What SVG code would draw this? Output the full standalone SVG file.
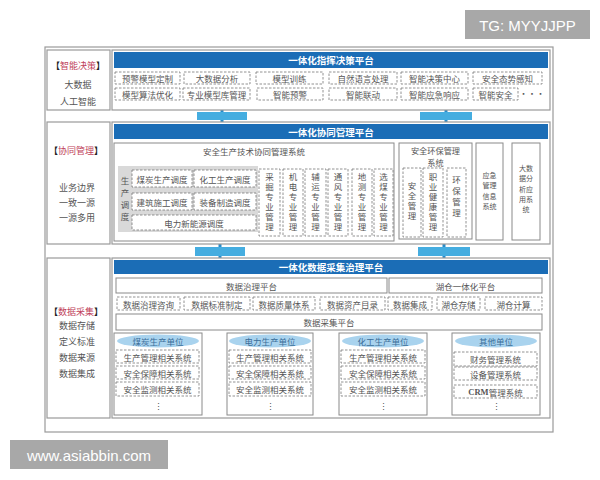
<svg xmlns="http://www.w3.org/2000/svg" width="600" height="480" viewBox="0 0 600 480">
<style>
.frame{fill:#fff;stroke:#9a9a9a;stroke-width:1.2}
.box{fill:#fff;stroke:#8a8a8a;stroke-width:1}
.dash{fill:#fff;stroke:#777;stroke-width:0.8;stroke-dasharray:2.5 1.5}
.bar{fill:#1b6db6}
.t{font-family:"Noto Sans CJK SC","Noto Sans",sans-serif;font-size:8.5px;fill:#555;text-anchor:middle;dominant-baseline:central}
.v{font-family:"Noto Sans CJK SC","Noto Sans",sans-serif;font-size:8.5px;fill:#555;text-anchor:middle;dominant-baseline:central;writing-mode:vertical-rl;text-orientation:upright;letter-spacing:1.5px}
.s{font-family:"Noto Sans CJK SC","Noto Sans",sans-serif;font-size:7px;fill:#555;text-anchor:middle;dominant-baseline:central}
.bt{font-family:"Noto Sans CJK SC","Noto Sans",sans-serif;font-size:9.5px;font-weight:bold;fill:#fff;text-anchor:middle;dominant-baseline:central}
.lb{font-family:"Noto Sans CJK SC","Noto Sans",sans-serif;font-size:9px;fill:#555;text-anchor:middle;dominant-baseline:central}
.br{fill:#222;font-weight:bold}
.red{fill:#c0415a}
.ell{fill:#a9d3ee}
.et{font-family:"Noto Sans CJK SC","Noto Sans",sans-serif;font-size:8.5px;fill:#3a6d99;text-anchor:middle;dominant-baseline:central}
.con{fill:#45ade0}
.stem{fill:#2a8cc9}
.wm{fill:#a8a8a8}
.wt{font-family:"Liberation Sans",Arial,sans-serif;fill:#fff;text-anchor:middle;dominant-baseline:central}
</style>
<rect width="600" height="480" fill="#fff"/>
<rect class="frame" x="45" y="47" width="508" height="385"/>

<!-- connectors -->
<g id="connectors">
  <rect class="stem" x="220.5" y="109" width="3" height="15"/>
  <rect class="con" x="197" y="112" width="50" height="8"/>
  <rect class="stem" x="444.5" y="109" width="3" height="15"/>
  <rect class="con" x="420" y="112" width="52" height="8"/>
  <rect class="stem" x="218.5" y="243" width="3" height="17"/>
  <rect class="con" x="195" y="247" width="50" height="9"/>
  <rect class="stem" x="442.5" y="243" width="3" height="17"/>
  <rect class="con" x="418" y="247" width="52" height="9"/>
</g>

<!-- Section 1 -->
<g id="label1">
  <rect class="frame" x="47" y="50" width="63" height="60"/>
  <text class="lb" x="78" y="65"><tspan class="br">【</tspan><tspan class="red">智能决策</tspan><tspan class="br">】</tspan></text>
  <text class="lb" x="78" y="84">大数据</text>
  <text class="lb" x="78" y="101">人工智能</text>
</g>
<g id="platform1">
  <rect class="frame" x="112" y="50" width="438" height="60"/>
  <rect class="bar" x="114" y="52" width="434" height="16"/>
  <text class="bt" x="331" y="60">一体化指挥决策平台</text>
  <rect class="dash" x="115" y="72" width="65" height="12"/><text class="t" x="147.5" y="78">预警模型定制</text>
  <rect class="dash" x="184" y="72" width="66" height="12"/><text class="t" x="217" y="78">大数据分析</text>
  <rect class="dash" x="256" y="72" width="67" height="12"/><text class="t" x="289.5" y="78">模型训练</text>
  <rect class="dash" x="329" y="72" width="68" height="12"/><text class="t" x="363" y="78">自然语言处理</text>
  <rect class="dash" x="401" y="72" width="67" height="12"/><text class="t" x="434.5" y="78">智能决策中心</text>
  <rect class="dash" x="473" y="72" width="69" height="12"/><text class="t" x="507.5" y="78">安全态势感知</text>
  <rect class="dash" x="115" y="88" width="65" height="12"/><text class="t" x="147.5" y="94">模型算法优化</text>
  <rect class="dash" x="183" y="88" width="67" height="12"/><text class="t" x="216.5" y="94">专业模型库管理</text>
  <rect class="dash" x="257" y="88" width="66" height="12"/><text class="t" x="290" y="94">智能预警</text>
  <rect class="dash" x="329" y="88" width="68" height="12"/><text class="t" x="363" y="94">智能联动</text>
  <rect class="dash" x="401" y="88" width="67" height="12"/><text class="t" x="434.5" y="94">智能应急响应</text>
  <rect class="dash" x="473" y="88" width="45" height="12"/><text class="t" x="495.5" y="94">智能安全</text>
  <text class="t" x="532" y="93">···</text>
</g>

<!-- Section 2 -->
<g id="label2">
  <rect class="frame" x="47" y="122" width="63" height="122"/>
  <text class="lb" x="76" y="150"><tspan class="br">【</tspan><tspan class="red">协同管理</tspan><tspan class="br">】</tspan></text>
  <text class="lb" x="77" y="187">业务边界</text>
  <text class="lb" x="77" y="202">一致一源</text>
  <text class="lb" x="77" y="217">一源多用</text>
</g>
<g id="platform2">
  <rect class="frame" x="112" y="122" width="438" height="122"/>
  <rect class="bar" x="114" y="124" width="434" height="15"/>
  <text class="bt" x="331" y="131.5">一体化协同管理平台</text>
</g>
<g id="tech-system">
  <rect class="box" x="114" y="143" width="280" height="98"/>
  <text class="t" x="254" y="151">安全生产技术协同管理系统</text>
  <rect x="118" y="166" width="140" height="66" fill="#d9d9d9"/>
  <text class="v" x="125" y="201" style="letter-spacing:3.5px">生产调度</text>
  <rect class="dash" x="132" y="170" width="60" height="17"/><text class="t" x="162" y="178.5">煤炭生产调度</text>
  <rect class="dash" x="194" y="170" width="62" height="17"/><text class="t" x="225" y="178.5">化工生产调度</text>
  <rect class="dash" x="132" y="193" width="60" height="17"/><text class="t" x="162" y="201.5">建筑施工调度</text>
  <rect class="dash" x="194" y="193" width="62" height="17"/><text class="t" x="225" y="201.5">装备制造调度</text>
  <rect class="dash" x="132" y="215" width="124" height="15"/><text class="t" x="194" y="222.5">电力新能源调度</text>
  <rect class="dash" x="259" y="169" width="21" height="67"/><text class="v" x="269.5" y="203">采掘专业管理</text>
  <rect class="dash" x="283" y="169" width="20" height="67"/><text class="v" x="293" y="203">机电专业管理</text>
  <rect class="dash" x="305" y="169" width="21" height="67"/><text class="v" x="315.5" y="203">辅运专业管理</text>
  <rect class="dash" x="328" y="169" width="20" height="67"/><text class="v" x="338" y="203">通风专业管理</text>
  <rect class="dash" x="352" y="169" width="20" height="67"/><text class="v" x="362" y="203">地测专业管理</text>
  <rect class="dash" x="374" y="169" width="19" height="67"/><text class="v" x="383.5" y="203">选煤专业管理</text>
</g>
<g id="env-system">
  <rect class="box" x="399" y="143" width="73" height="96"/>
  <text class="t" x="435.5" y="149.5" style="font-size:8.2px"><tspan x="435.5" dy="0">安全环保管理</tspan><tspan x="435.5" dy="12">系统</tspan></text>
  <rect class="dash" x="403" y="168" width="18" height="69"/><text class="v" x="412" y="202">安全管理</text>
  <rect class="dash" x="423" y="168" width="20" height="69"/><text class="v" x="433" y="203">职业健康管理</text>
  <rect class="dash" x="447" y="168" width="19" height="69"/><text class="v" x="456.5" y="198" style="letter-spacing:2.5px">环保管理</text>
</g>
<g id="emergency-system">
  <rect class="box" x="476" y="143" width="27" height="97"/>
  <text class="s" x="489.5" y="175"><tspan x="489.5" dy="0">应急</tspan><tspan x="489.5" dy="10.3">管理</tspan><tspan x="489.5" dy="10.3">信息</tspan><tspan x="489.5" dy="10.3">系统</tspan></text>
</g>
<g id="bigdata-system">
  <rect class="box" x="512" y="143" width="28" height="97"/>
  <text class="s" x="526" y="168"><tspan x="526" dy="0">大数</tspan><tspan x="526" dy="10.3">据分</tspan><tspan x="526" dy="10.3">析应</tspan><tspan x="526" dy="10.3">用系</tspan><tspan x="526" dy="10.3">统</tspan></text>
</g>

<!-- Section 3 -->
<g id="label3">
  <rect class="frame" x="47" y="258" width="63" height="160"/>
  <text class="lb" x="76" y="311"><tspan class="br">【</tspan><tspan class="red">数据采集</tspan><tspan class="br">】</tspan></text>
  <text class="lb" x="77" y="325"><tspan x="77" dy="0">数据存储</tspan><tspan x="77" dy="16">定义标准</tspan><tspan x="77" dy="16">数据来源</tspan><tspan x="77" dy="16">数据集成</tspan></text>
</g>
<g id="platform3">
  <rect class="frame" x="112" y="258" width="438" height="160"/>
  <rect class="bar" x="114" y="260" width="434" height="14"/>
  <text class="bt" x="331" y="267">一体化数据采集治理平台</text>
</g>
<g id="governance">
  <rect class="box" x="116" y="278" width="271" height="15"/><text class="t" x="251.5" y="285.5">数据治理平台</text>
  <rect class="box" x="389" y="278" width="153" height="15"/><text class="t" x="465.5" y="285.5">湖仓一体化平台</text>
  <rect class="dash" x="117" y="297" width="63" height="13"/><text class="t" x="148.5" y="303.5">数据治理咨询</text>
  <rect class="dash" x="184" y="297" width="66" height="13"/><text class="t" x="217" y="303.5">数据标准制定</text>
  <rect class="dash" x="253" y="297" width="62" height="13"/><text class="t" x="284" y="303.5">数据质量体系</text>
  <rect class="dash" x="320" y="297" width="65" height="13"/><text class="t" x="352.5" y="303.5">数据资产目录</text>
  <rect class="dash" x="388" y="297" width="44" height="13"/><text class="t" x="410" y="303.5">数据集成</text>
  <rect class="dash" x="437" y="297" width="43" height="13"/><text class="t" x="458.5" y="303.5">湖仓存储</text>
  <rect class="dash" x="485" y="297" width="57" height="13"/><text class="t" x="513.5" y="303.5">湖仓计算</text>
  <rect class="box" x="116" y="314" width="426" height="16"/><text class="t" x="329" y="322">数据采集平台</text>
</g>
<g id="unit-coal">
  <rect class="box" x="114" y="333" width="88" height="82"/>
  <ellipse class="ell" cx="158" cy="341" rx="41" ry="6.5"/><text class="et" x="158" y="341">煤炭生产单位</text>
  <rect class="dash" x="116" y="350" width="83" height="13"/><text class="t" x="157.5" y="356.5">生产管理相关系统</text>
  <rect class="dash" x="116" y="366" width="83" height="13"/><text class="t" x="157.5" y="372.5">安全保障相关系统</text>
  <rect class="dash" x="116" y="382" width="83" height="14"/><text class="t" x="157.5" y="389">安全监测相关系统</text>
  <text class="t" x="158" y="406">⋮</text>
</g>
<g id="unit-power">
  <rect class="box" x="227" y="333" width="86" height="82"/>
  <ellipse class="ell" cx="270" cy="341" rx="41" ry="6.5"/><text class="et" x="270" y="341">电力生产单位</text>
  <rect class="dash" x="229" y="350" width="82" height="13"/><text class="t" x="270" y="356.5">生产管理相关系统</text>
  <rect class="dash" x="229" y="366" width="82" height="13"/><text class="t" x="270" y="372.5">安全保障相关系统</text>
  <rect class="dash" x="229" y="382" width="82" height="14"/><text class="t" x="270" y="389">安全监测相关系统</text>
  <text class="t" x="270" y="406">⋮</text>
</g>
<g id="unit-chem">
  <rect class="box" x="339" y="333" width="88" height="82"/>
  <ellipse class="ell" cx="383" cy="341" rx="41" ry="6.5"/><text class="et" x="383" y="341">化工生产单位</text>
  <rect class="dash" x="341" y="350" width="84" height="13"/><text class="t" x="383" y="356.5">生产管理相关系统</text>
  <rect class="dash" x="341" y="366" width="84" height="13"/><text class="t" x="383" y="372.5">安全保障相关系统</text>
  <rect class="dash" x="341" y="382" width="84" height="14"/><text class="t" x="383" y="389">安全监测相关系统</text>
  <text class="t" x="383" y="406">⋮</text>
</g>
<g id="unit-other">
  <rect class="box" x="452" y="333" width="88" height="82"/>
  <ellipse class="ell" cx="496" cy="341" rx="41" ry="6.5"/><text class="et" x="496" y="341">其他单位</text>
  <rect class="dash" x="454" y="352" width="83" height="14"/><text class="t" x="495.5" y="359">财务管理系统</text>
  <rect class="dash" x="454" y="367" width="83" height="13"/><text class="t" x="495.5" y="373.5">设备管理系统</text>
  <rect class="dash" x="454" y="385" width="83" height="13"/><text class="t" x="495.5" y="391.5"><tspan font-weight="bold" font-family="Liberation Serif,serif">CRM</tspan>管理系统</text>
  <text class="t" x="496" y="406">⋮</text>
</g>

<!-- watermarks -->
<g id="watermark-tg">
  <rect class="wm" x="465" y="10" width="125" height="29"/>
  <text class="wt" x="527.5" y="25" font-size="15">TG: MYYJJPP</text>
</g>
<g id="watermark-url">
  <rect class="wm" x="10" y="440" width="158" height="29"/>
  <text class="wt" x="89" y="455" font-size="15">www.asiabbin.com</text>
</g>
</svg>
